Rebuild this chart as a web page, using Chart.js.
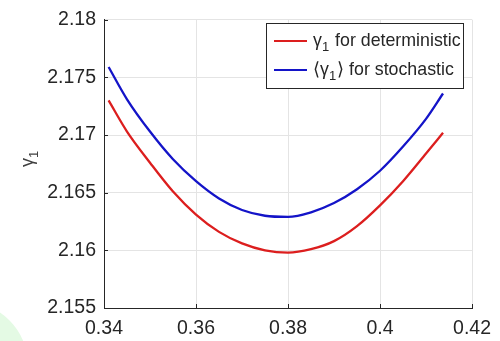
<!DOCTYPE html>
<html>
<head>
<meta charset="utf-8">
<script src="https://cdn.jsdelivr.net/npm/chart.js@4"></script>
<style>
  html, body { margin: 0; padding: 0; background: #fff; }
  #wrap { position: relative; width: 500px; height: 341px; overflow: hidden; }
  #blob { position: absolute; left: -98px; top: 302px; width: 126px; height: 126px; border-radius: 50%; background: #e4fae4; }
  #gammaChart { position: absolute; left: 0; top: 0; }
</style>
</head>
<body>
<div id="wrap">
  <div id="blob"></div>
  <canvas id="gammaChart" width="500" height="341"></canvas>
</div>
<script>
// values
const xValues = [0.341, 0.345, 0.35, 0.355, 0.36, 0.365, 0.37, 0.375, 0.38, 0.385, 0.39, 0.395, 0.40, 0.405, 0.41, 0.4137];
const deterministic = [2.1730, 2.1703, 2.1676, 2.1651, 2.1631, 2.1616, 2.1606, 2.1600, 2.1598, 2.1601, 2.1608, 2.1621, 2.1639, 2.1660, 2.1684, 2.1702];
const stochastic = [2.1759, 2.1731, 2.1703, 2.1679, 2.1660, 2.1645, 2.1635, 2.1630, 2.1629, 2.1633, 2.1641, 2.1653, 2.1669, 2.1690, 2.1714, 2.1736];

const xTicks = [0.34, 0.36, 0.38, 0.40, 0.42];
const yTicks = [2.155, 2.16, 2.165, 2.17, 2.175, 2.18];
const legendLabels = [
  { pre: '', sym: 'γ', sub: '1', post: '', rest: ' for deterministic', color: '#dc1e1e' },
  { pre: '⟨', sym: 'γ', sub: '1', post: '⟩', rest: ' for stochastic', color: '#1414c8' }
];

const FONT = '"Liberation Sans", Arial, Helvetica, sans-serif';
const AXIS = '#262626';

const toPoints = (ys) => xValues.map((x, i) => ({ x, y: ys[i] }));

// draws "pre sym_sub post rest" with a lowered subscript, returns end x
function drawSubText(ctx, item, x, y, size) {
  ctx.font = `${size}px ${FONT}`;
  if (item.pre) { ctx.fillText(item.pre, x, y); x += ctx.measureText(item.pre).width; }
  ctx.fillText(item.sym, x, y);
  x += ctx.measureText(item.sym).width;
  ctx.font = `${Math.round(size * 0.72)}px ${FONT}`;
  ctx.fillText(item.sub, x, y + size * 0.3);
  x += ctx.measureText(item.sub).width + 1;
  ctx.font = `${size}px ${FONT}`;
  if (item.post) { ctx.fillText(item.post, x, y); x += ctx.measureText(item.post).width; }
  if (item.rest) { ctx.fillText(item.rest, x, y); x += ctx.measureText(item.rest).width; }
  return x;
}

const matlabBits = {
  id: 'matlabBits',
  afterDraw(chart) {
    const { ctx, chartArea, scales } = chart;
    ctx.save();
    // inward ticks
    ctx.strokeStyle = AXIS;
    ctx.lineWidth = 1;
    ctx.beginPath();
    yTicks.forEach(v => {
      const py = Math.round(scales.y.getPixelForValue(v)) + 0.5;
      ctx.moveTo(chartArea.left, py);
      ctx.lineTo(chartArea.left + 4, py);
    });
    xTicks.forEach(v => {
      const px = Math.round(scales.x.getPixelForValue(v)) + 0.5;
      ctx.moveTo(px, chartArea.bottom);
      ctx.lineTo(px, chartArea.bottom - 4);
    });
    ctx.stroke();
    ctx.restore();

    // y axis title, rotated
    ctx.save();
    ctx.fillStyle = '#404040';
    ctx.textBaseline = 'alphabetic';
    ctx.translate(33, 167);
    ctx.rotate(-Math.PI / 2);
    drawSubText(ctx, { pre: '', sym: 'γ', sub: '1', post: '', rest: '' }, 0, 0, 18);
    ctx.restore();

    // legend box
    ctx.save();
    const bx = 266, by = 23, bw = 197, bh = 65;
    ctx.fillStyle = '#fff';
    ctx.fillRect(bx, by, bw, bh);
    ctx.strokeStyle = AXIS;
    ctx.lineWidth = 1;
    ctx.strokeRect(bx + 0.5, by + 0.5, bw, bh);
    legendLabels.forEach((item, i) => {
      const ly = 41 + i * 29;
      ctx.strokeStyle = item.color;
      ctx.lineWidth = 2;
      ctx.beginPath();
      ctx.moveTo(274, ly);
      ctx.lineTo(307, ly);
      ctx.stroke();
      ctx.fillStyle = AXIS;
      drawSubText(ctx, item, 313, ly + 4.5, 17.8);
    });
    ctx.restore();
  }
};

new Chart(document.getElementById('gammaChart'), {
  type: 'line',
  data: {
    datasets: [
      { data: toPoints(deterministic), borderColor: legendLabels[0].color, borderWidth: 2.3, pointRadius: 0, cubicInterpolationMode: 'monotone', fill: false },
      { data: toPoints(stochastic), borderColor: legendLabels[1].color, borderWidth: 2.3, pointRadius: 0, cubicInterpolationMode: 'monotone', fill: false }
    ]
  },
  options: {
    responsive: false,
    animation: false,
    layout: { padding: { top: 11, right: 24, left: 0, bottom: 0 } },
    plugins: { legend: { display: false }, tooltip: { enabled: false } },
    scales: {
      x: {
        type: 'linear',
        min: 0.34,
        max: 0.42,
        afterBuildTicks: (s) => { s.ticks = xTicks.map(v => ({ value: v })); },
        afterFit: (s) => { s.height = 33; },
        ticks: {
          color: AXIS,
          padding: 9,
          font: { family: FONT, size: 19.5 },
          maxRotation: 0,
          callback: (v) => String(+v.toFixed(2))
        },
        grid: { color: '#e4e4e4', drawTicks: false },
        border: { color: AXIS, width: 1 }
      },
      y: {
        min: 2.155,
        max: 2.18,
        afterBuildTicks: (s) => { s.ticks = yTicks.map(v => ({ value: v })); },
        afterFit: (s) => { s.width = 104; },
        ticks: {
          color: AXIS,
          padding: 8,
          font: { family: FONT, size: 19.5 },
          callback: (v) => String(+v.toFixed(3))
        },
        grid: { color: '#e4e4e4', drawTicks: false },
        border: { color: AXIS, width: 1 }
      }
    }
  },
  plugins: [matlabBits]
});
</script>
</body>
</html>
